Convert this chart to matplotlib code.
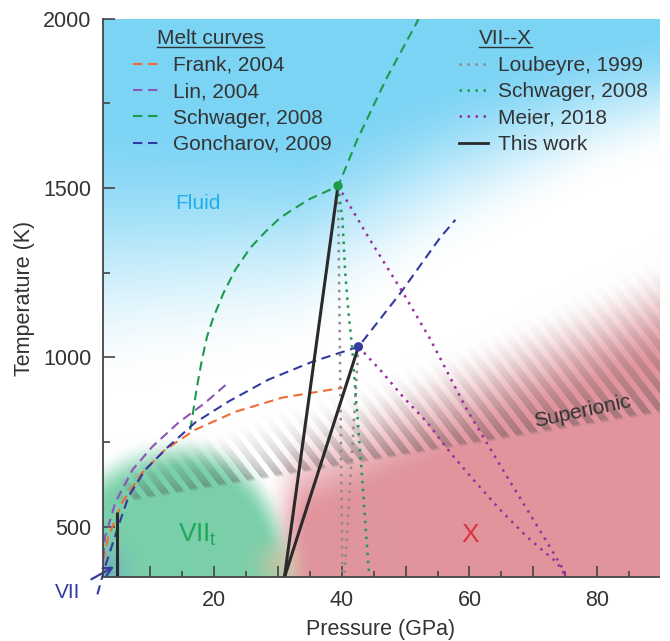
import numpy as np
import matplotlib
matplotlib.use("Agg")
import matplotlib.pyplot as plt
from matplotlib.lines import Line2D

plt.rcParams['font.family'] = ['Liberation Sans', 'DejaVu Sans']
plt.rcParams['mathtext.fontset'] = 'custom'
plt.rcParams['mathtext.rm'] = 'Liberation Sans'
plt.rcParams['mathtext.it'] = 'Liberation Sans'

# ---- data (P in GPa, T in K) ----
frank_P = [2.6, 3.4, 5.6, 8.7, 12.3, 17.0, 23.3, 30.7, 40.1]
frank_T = [400, 470, 571, 659, 727, 786, 839, 881, 910]

lin_P = [2.6, 2.9, 4.5, 7.2, 10.3, 14.4, 18.6, 22.2]
lin_T = [410, 470, 571, 668, 736, 807, 866, 925]

schwager_melt_P = [16.25, 16.67, 17.3, 18.08, 18.86, 19.9, 21.46, 23.3, 25.65, 28.0, 30.35,
                   32.96, 35.05, 37.4, 39.44, 42.4, 47.1, 51.8, 52.0]
schwager_melt_T = [786, 836, 913, 993, 1060, 1119, 1190, 1258, 1323, 1370, 1412,
                   1444, 1468, 1488, 1506, 1642, 1827, 1990, 2000]

goncharov_P = [1.7, 2.9, 4.8, 6.55, 9.2, 12.8, 17.0, 22.2, 28.5, 35.4, 42.6, 49.2, 55.4, 57.8]
goncharov_T = [300, 382, 491, 588, 668, 736, 807, 869, 934, 987, 1031, 1190, 1353, 1406]

# VII--X boundaries
loubeyre_a_P = [39.4, 40.1]
loubeyre_a_T = [1506, 350]
loubeyre_b_P = [42.6, 40.4]
loubeyre_b_T = [1031, 350]

schwager_vx_P = [39.4, 40.1, 40.5, 41.0, 41.6, 42.4, 43.2, 44.3]
schwager_vx_T = [1506, 1406, 1258, 1140, 1031, 836, 639, 350]

meier_a_P = [39.4, 44.4, 49.6, 53.9, 59.6, 65.9, 72.2, 74.7, 75.2]
meier_a_T = [1506, 1347, 1190, 1052, 845, 647, 453, 373, 350]
meier_b_P = [42.6, 46.0, 49.6, 53.4, 57.0, 60.6, 64.8, 69.0, 73.7, 75.2]
meier_b_T = [1031, 963, 883, 807, 718, 639, 550, 470, 394, 350]

this_work_P = [[31.0, 39.4], [31.0, 42.6], [4.8, 4.8]]
this_work_T = [[350, 1506], [350, 1031], [350, 544]]

triple_P = [39.4, 42.6]
triple_T = [1506, 1031]

xlim = (2.5, 89.7)
ylim = (350, 2000)

c_frank = '#f26a35'
c_lin = '#8e55b8'
c_green = '#1d9b4a'
c_navy = '#333c9e'
c_grey = '#8c8c8c'
c_meier = '#9b2fa0'
c_black = '#2a2a2a'
c_text = '#333333'

fig = plt.figure(figsize=(6.7, 6.41), dpi=100)
ax = fig.add_axes([0.153, 0.0991, 0.8306, 0.872])


# ---- background phase colouring (pixel-like units of the original figure) ----
def ramp(z):
    z = np.clip(z, 0, 1)
    return z * z * (3 - 2 * z)


nx, ny = 557, 559
PP, TT = np.meshgrid(np.linspace(xlim[0], xlim[1], nx), np.linspace(ylim[1], ylim[0], ny))
X = 86.3 + 6.383 * PP
Y = 527 - 0.339 * (TT - 500)

img = np.ones((ny, nx, 3))
sky = np.array([125, 212, 245]) / 255
pink = np.array([225, 148, 156]) / 255
green = np.array([122, 208, 170]) / 255
tan = np.array([208, 194, 162]) / 255
corner = np.array([105, 160, 195]) / 255
stripe = np.array([70, 70, 70]) / 255

edge = np.interp(X, [100, 300, 450, 600, 660], [255, 245, 170, 110, 95])
width = np.interp(X, [100, 660], [280, 130])
wb = ramp((edge + width / 2 - Y) / width)

top = 460 - 0.45 * (X - 330)
wp = ramp((X - 262) / 45) * ramp((Y - top) / 110 + 0.5)

rx = np.where(X > 185, 100, 135)
r = np.hypot((X - 185) / rx, (Y - 585) / 132)
wg = ramp((1.15 - r) / 0.3)

wt = 0.7 * np.exp(-((X - 278) ** 2 + (Y - 566) ** 2) / (2 * 15 ** 2))
wc = 0.6 * np.exp(-((X - 103) ** 2 + (Y - 572) ** 2) / (2 * 16 ** 2))

for col, w in [(sky, wb), (pink, wp), (green, wg), (tan, wt), (corner, wc)]:
    img = img * (1 - w[..., None]) + col * w[..., None]

# superionic hatch band
L = 500 - 0.167 * (X - 140)
d = L - Y
h = np.interp(X, [110, 300, 450, 660], [40, 75, 105, 175])
band = np.clip(1 - d / h, 0, 1) ** 1.7 * ramp((d + 2) / 5) * ramp((X - 110) / 30)
ph = ((1.3 * X - Y) / 20.8) % 1.0
tri = np.abs(ph - 0.5) * 2
on = np.clip((0.55 - tri) / 0.1 + 0.5, 0, 1)
a = 0.38 * band * on
img = img * (1 - a[..., None]) + stripe * a[..., None]

ax.imshow(img, extent=(xlim[0], xlim[1], ylim[0], ylim[1]), aspect='auto', zorder=0,
          interpolation='bilinear')

# ---- curves ----
dash = (4.5, 2.7)
dot = (1.0, 2.2)
ax.plot(frank_P, frank_T, color=c_frank, lw=1.5, dashes=dash, zorder=3)
ax.plot(lin_P, lin_T, color=c_lin, lw=1.5, dashes=dash, zorder=3)
ax.plot(schwager_melt_P, schwager_melt_T, color=c_green, lw=1.5, dashes=dash, zorder=3)
ax.plot(goncharov_P, goncharov_T, color=c_navy, lw=1.5, dashes=dash, zorder=3, clip_on=False)

ax.plot(loubeyre_a_P, loubeyre_a_T, color=c_grey, lw=1.8, dashes=dot, zorder=3)
ax.plot(loubeyre_b_P, loubeyre_b_T, color=c_grey, lw=1.8, dashes=dot, zorder=3)
ax.plot(schwager_vx_P, schwager_vx_T, color=c_green, lw=1.8, dashes=dot, zorder=3)
ax.plot(meier_a_P, meier_a_T, color=c_meier, lw=1.8, dashes=dot, zorder=3)
ax.plot(meier_b_P, meier_b_T, color=c_meier, lw=1.8, dashes=dot, zorder=3)

for p, t in zip(this_work_P, this_work_T):
    ax.plot(p, t, color=c_black, lw=2.2, solid_capstyle='butt', zorder=4)

ax.scatter(triple_P, triple_T, s=45, c=[c_green, c_navy], zorder=5, edgecolors='none')

# ---- axes ----
ax.set_xlim(xlim)
ax.set_ylim(ylim)
for s in ['top', 'right']:
    ax.spines[s].set_visible(False)
for s in ['left', 'bottom']:
    ax.spines[s].set_color('#444444')
    ax.spines[s].set_linewidth(1.3)
    ax.spines[s].set_zorder(6)

xt = np.arange(10, 90, 10)
ax.set_xticks(xt)
ax.set_xticklabels([str(v) if v % 20 == 0 else '' for v in xt])
ax.set_xticks(np.arange(5, 90, 10), minor=True)
ax.set_yticks([500, 1000, 1500, 2000])
ax.set_yticks([750, 1250, 1750], minor=True)
ax.tick_params(which='both', direction='in', colors='#444444', labelcolor=c_text, labelsize=15.5)
ax.tick_params(axis='x', which='major', length=8, width=1.2, pad=9)
ax.tick_params(axis='x', which='minor', length=4.5, width=1.2)
ax.tick_params(axis='y', which='major', length=8.5, width=1.2, pad=8)
ax.tick_params(axis='y', which='minor', length=5, width=1.2)
for t in ax.get_xticklines() + ax.get_yticklines():
    t.set_zorder(6)

ax.set_xlabel('Pressure (GPa)', fontsize=15.5, color=c_text, labelpad=6)
ax.set_ylabel('Temperature (K)', fontsize=15.5, color=c_text, labelpad=6)

# ---- phase labels ----
ax.text(17.5, 1453, 'Fluid', color='#22aee8', fontsize=15, ha='center', va='center', zorder=6)
ax.text(17.4, 476, r'VII$_\mathrm{t}$', color='#1fa85a', fontsize=19, ha='center', va='center', zorder=6)
ax.text(60.1, 476, 'X', color='#d8343f', fontsize=19, ha='center', va='center', zorder=6)
ax.text(77.7, 839, 'Superionic', color=c_text, fontsize=15, ha='center', va='center',
        rotation=12, zorder=6)
ax.annotate('VII', xy=(4.3, 382), xytext=(-3.0, 305), color=c_navy, fontsize=15,
            ha='center', va='center', annotation_clip=False, zorder=6,
            arrowprops=dict(arrowstyle='->', color=c_navy, lw=1.6, shrinkA=7, shrinkB=0))

# ---- legends ----
melt_labels = ['Frank, 2004', 'Lin, 2004', 'Schwager, 2008', 'Goncharov, 2009']
melt_colors = [c_frank, c_lin, c_green, c_navy]
vx_labels = ['Loubeyre, 1999', 'Schwager, 2008', 'Meier, 2018', 'This work']

h1 = [Line2D([], [], color=c, lw=1.5, dashes=dash) for c in melt_colors]
h2 = [Line2D([], [], color=c_grey, lw=1.8, dashes=dot),
      Line2D([], [], color=c_green, lw=1.8, dashes=dot),
      Line2D([], [], color=c_meier, lw=1.8, dashes=dot),
      Line2D([], [], color=c_black, lw=2.0)]

common = dict(loc='upper left', frameon=False, handlelength=1.4, handletextpad=0.5,
              labelspacing=0.35, borderpad=0, borderaxespad=0, fontsize=15, labelcolor=c_text)
leg1 = ax.legend(h1, melt_labels, bbox_to_anchor=(0.055, 0.933), **common)
ax.add_artist(leg1)
leg2 = ax.legend(h2, vx_labels, bbox_to_anchor=(0.640, 0.933), **common)
leg1.set_zorder(7)
leg2.set_zorder(7)

t1 = ax.text(0.098, 0.954, 'Melt curves', transform=ax.transAxes, fontsize=15, color=c_text,
             va='baseline', zorder=7)
t2 = ax.text(0.677, 0.954, 'VII--X', transform=ax.transAxes, fontsize=15, color=c_text,
             va='baseline', zorder=7)

# underline the legend headings
fig.canvas.draw()
inv = fig.transFigure.inverted()
for t in (t1, t2):
    bb = t.get_window_extent()
    x0, y0 = inv.transform((bb.x0, bb.y0 + 1.5))
    x1, _ = inv.transform((bb.x1, bb.y0 + 1.5))
    fig.add_artist(Line2D([x0, x1], [y0, y0], transform=fig.transFigure, color=c_text, lw=1.0))

fig.savefig('out.png', dpi=100)
